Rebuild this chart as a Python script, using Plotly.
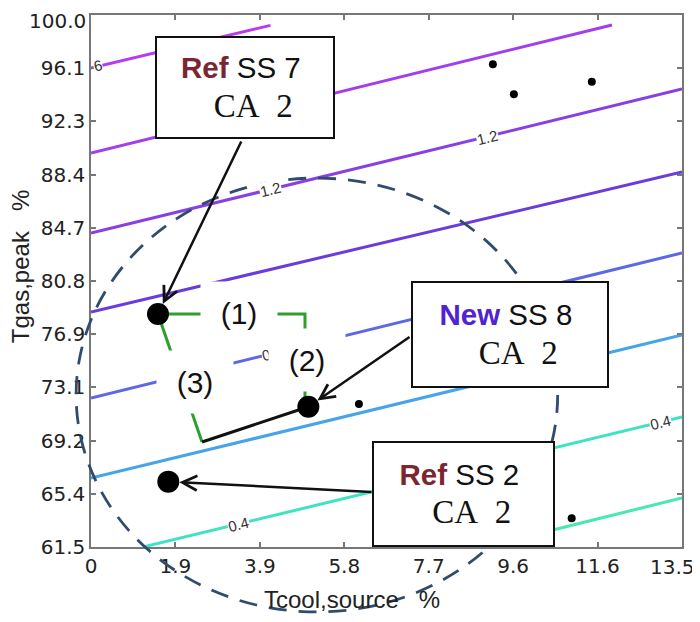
import plotly.graph_objects as go

# ---------------- data ----------------
x_range = [0, 13.5]
y_range = [61.5, 100.0]
x_tickvals = [0, 13.5/7, 2*13.5/7, 3*13.5/7, 4*13.5/7, 5*13.5/7, 6*13.5/7, 13.5]
x_ticktext = ["0", "1.9", "3.9", "5.8", "7.7", "9.6", "11.6", "13.5"]
y_tickvals = [61.5, 65.35, 69.2, 73.05, 76.9, 80.75, 84.6, 88.45, 92.3, 96.15, 100.0]
y_ticktext = ["61.5", "65.4", "69.2", "73.1", "76.9", "80.8", "84.7", "88.4", "92.3", "96.1", "100.0"]

# contour iso-lines (straight)
levels = [1.6, 1.4, 1.2, 1.0, 0.8, 0.6, 0.4, 0.2]
level_colors = ["#b83af2", "#a33eec", "#8a3fe2", "#6b3cdc", "#5d68e6", "#47a3ea", "#3fe3c3", "#48e8b2"]
line_x0 = [0.0, 0.0, 0.0, 0.0, 0.0, 0.0, 1.19, 8.98]
line_y0 = [96.16, 90.01, 84.22, 78.51, 72.28, 66.49, 61.5, 61.5]
line_x1 = [4.1, 11.9, 13.5, 13.5, 13.5, 13.5, 13.5, 13.5]
line_y1 = [99.25, 99.28, 94.64, 88.64, 82.78, 76.84, 70.91, 65.05]

# contour labels
clabel_text = ["1.2", "1.2", "0.8", "0.4", "0.4", "6"]
clabel_x = [4.09, 9.05, 4.135, 3.36, 13.0, 0.16]
clabel_y = [87.38, 91.10, 75.50, 63.16, 70.52, 96.31]

# operating points
small_x = [9.18, 9.66, 11.44, 6.12, 10.98]
small_y = [96.43, 94.26, 95.17, 71.85, 63.58]
big_x = [1.53, 4.965, 1.766]
big_y = [78.36, 71.65, 66.23]

# paths between points
path1_x = [1.53, 4.888, 4.888]
path1_y = [78.36, 78.36, 71.65]
path3_x = [1.53, 2.536]
path3_y = [78.36, 69.10]
path3b_x = [2.536, 4.965]
path3b_y = [69.10, 71.65]
step_labels = ["(1)", "(2)", "(3)"]
step_x = [3.381, 4.934, 2.376]
step_y = [78.43, 75.03, 73.44]

# dashed ellipse (centre, radii in data units)
ell_cx, ell_cy, ell_rx, ell_ry = 5.16, 72.5, 5.5, 15.7

# callout boxes
box_ref = ["Ref", "New", "Ref"]
box_ss = ["SS 7", "SS 8", "SS 2"]
box_ca = ["CA", "CA", "CA"]
box_num = ["2", "2", "2"]
box_x = [3.518, 9.571, 8.509]
box_y = [94.75, 76.88, 65.34]
box_w = [174, 192, 177]
box_h = [97, 101, 100]
box_tag_color = ["#7b2631", "#4f22d2", "#7b2631"]
arrow_tail_x = [3.449, 7.31, 6.44]
arrow_tail_y = [90.95, 76.77, 65.48]
arrow_target = [0, 1, 2]  # index into big points

# ---------------- figure ----------------
fig = go.Figure()

for i, lv in enumerate(levels):
    fig.add_trace(go.Scatter(
        x=[line_x0[i], line_x1[i]], y=[line_y0[i], line_y1[i]],
        mode="lines", line=dict(color=level_colors[i], width=3),
        hoverinfo="skip", showlegend=False, name=str(lv)))

fig.add_trace(go.Scatter(x=path1_x, y=path1_y, mode="lines",
                         line=dict(color="#2e9e2e", width=3), showlegend=False, hoverinfo="skip"))
fig.add_trace(go.Scatter(x=path3_x, y=path3_y, mode="lines",
                         line=dict(color="#2e9e2e", width=3), showlegend=False, hoverinfo="skip"))
fig.add_trace(go.Scatter(x=path3b_x, y=path3b_y, mode="lines",
                         line=dict(color="#111111", width=3), showlegend=False, hoverinfo="skip"))

fig.add_trace(go.Scatter(x=small_x, y=small_y, mode="markers",
                         marker=dict(color="#000000", size=8), showlegend=False, hoverinfo="skip"))
fig.add_trace(go.Scatter(x=big_x, y=big_y, mode="markers",
                         marker=dict(color="#000000", size=22), showlegend=False, hoverinfo="skip"))

# dashed ellipse in paper coords (not clipped to the plot area)
def px(v):
    return (v - x_range[0]) / (x_range[1] - x_range[0])

def py(v):
    return (v - y_range[0]) / (y_range[1] - y_range[0])

fig.add_shape(type="circle", xref="paper", yref="paper",
              x0=px(ell_cx - ell_rx), x1=px(ell_cx + ell_rx),
              y0=py(ell_cy - ell_ry), y1=py(ell_cy + ell_ry),
              line=dict(color="#2f4c6e", width=2.8, dash="18px,12px"))

annotations = []
for t, x, y in zip(clabel_text, clabel_x, clabel_y):
    annotations.append(dict(x=x, y=y, xref="x", yref="y", text=t, showarrow=False,
                            textangle=-14, bgcolor="white", borderpad=0,
                            font=dict(family="Liberation Sans, Arial", size=15, color="#333333")))

for t, x, y in zip(step_labels, step_x, step_y):
    annotations.append(dict(x=x, y=y, xref="x", yref="y", text=t, showarrow=False,
                            bgcolor="white", width=76, height=62, borderpad=0,
                            font=dict(family="Liberation Sans, Arial", size=30, color="#111111")))

for i in range(3):
    k = arrow_target[i]
    annotations.append(dict(x=big_x[k], y=big_y[k], xref="x", yref="y",
                            ax=arrow_tail_x[i], ay=arrow_tail_y[i], axref="x", ayref="y",
                            text="", showarrow=True, arrowhead=5, arrowsize=1.15,
                            arrowwidth=2.5, arrowcolor="#111111", standoff=11))

for i in range(3):
    txt = ("<span style='color:%s;font-weight:bold'>%s</span> %s\u00a0<br>"
           "<span style='font-family:Liberation Serif, Times New Roman, serif;font-size:33px'>"
           "\u00a0\u00a0%s\u00a0\u00a0%s</span>") % (box_tag_color[i], box_ref[i], box_ss[i],
                                                 box_ca[i], box_num[i])
    annotations.append(dict(x=box_x[i], y=box_y[i], xref="x", yref="y", text=txt,
                            showarrow=False, bgcolor="white", bordercolor="#111111",
                            borderwidth=2, borderpad=1, width=box_w[i], height=box_h[i],
                            align="center",
                            font=dict(family="Liberation Sans, Arial", size=29.5, color="#111111")))

# edge tick labels drawn as annotations so they stay inside the page
tick_font = dict(family="DejaVu Sans", size=20, color="#222222")
annotations.append(dict(x=x_tickvals[-1], y=0, xref="x", yref="paper", text=x_ticktext[-1],
                        showarrow=False, xanchor="center", yanchor="top", xshift=-10, yshift=-6,
                        font=tick_font))
annotations.append(dict(x=0, y=y_tickvals[-1], xref="paper", yref="y", text=y_ticktext[-1],
                        showarrow=False, xanchor="right", yanchor="top", xshift=-4, yshift=7,
                        borderpad=0, font=tick_font))
x_ticktext_axis = x_ticktext[:-1] + [""]
y_ticktext_axis = y_ticktext[:-1] + [""]

# axis titles
annotations.append(dict(x=0.4416, y=-0.0996, xref="paper", yref="paper",
                        xanchor="center", yanchor="middle",
                        text="Tcool,source\u00a0\u00a0\u00a0%", showarrow=False,
                        font=dict(family="Liberation Sans, Arial", size=24, color="#222222")))
annotations.append(dict(x=-0.1201, y=0.526, xref="paper", yref="paper",
                        xanchor="center", yanchor="middle",
                        text="Tgas,peak\u00a0\u00a0\u00a0%", showarrow=False, textangle=-90,
                        font=dict(family="Liberation Sans, Arial", size=24, color="#222222")))

# the page body adds an 8px offset, so the figure is 8px smaller and margins shifted
fig.update_layout(
    width=692, height=614,
    margin=dict(l=83, r=18, t=7, b=75, autoexpand=False),
    paper_bgcolor="white", plot_bgcolor="white",
    showlegend=False,
    annotations=annotations,
)

axis_common = dict(showgrid=False, zeroline=False, showline=True, linecolor="#777777",
                   linewidth=1.5, mirror="ticks", ticks="inside", ticklen=5,
                   tickcolor="#777777", tickwidth=1.5, automargin=False,
                   ticklabeloverflow="allow", tickfont=tick_font)
fig.update_xaxes(range=x_range, tickvals=x_tickvals, ticktext=x_ticktext_axis, **axis_common)
fig.update_yaxes(range=y_range, tickvals=y_tickvals, ticktext=y_ticktext_axis, **axis_common)

fig.write_html("out.html")
